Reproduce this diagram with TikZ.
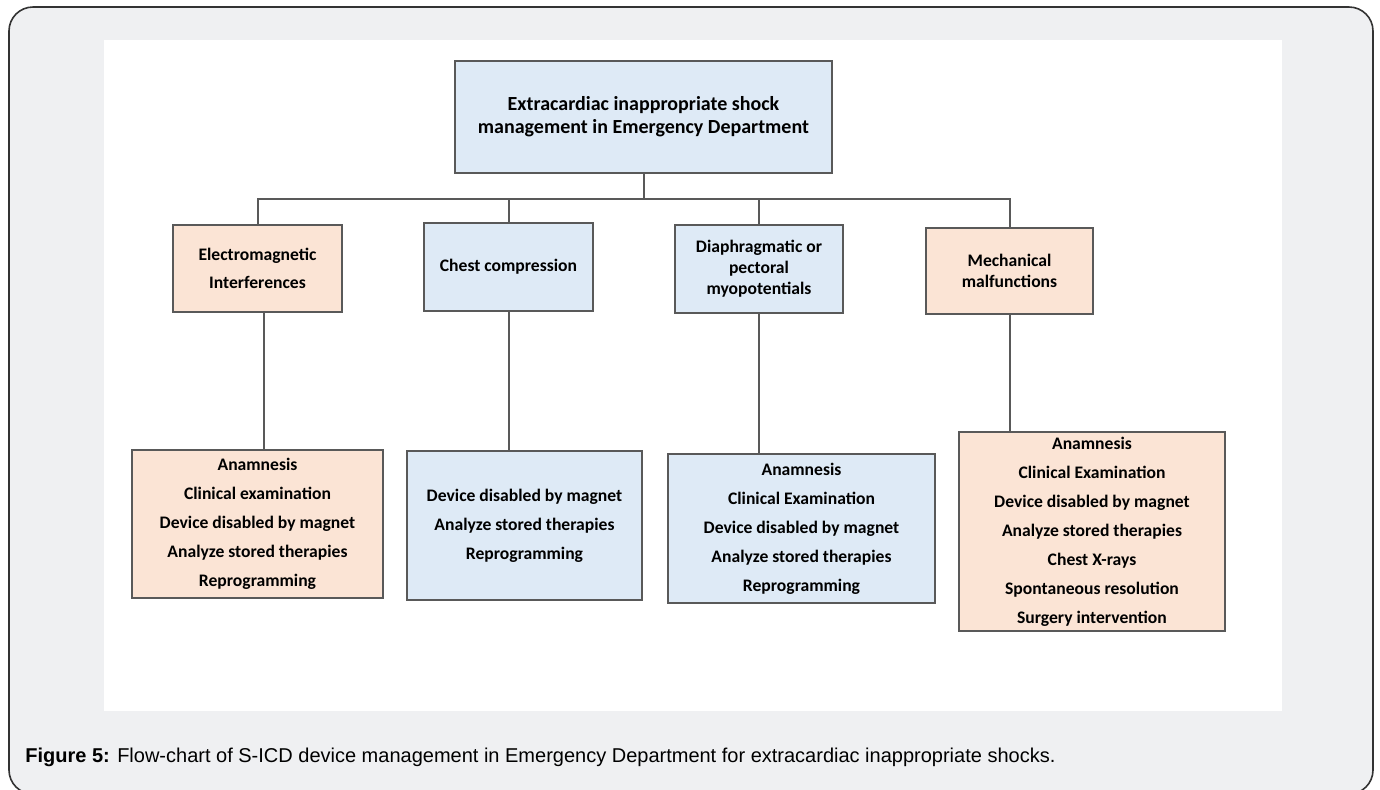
\documentclass[tikz,border=0pt]{standalone}
\usepackage{fontspec}
\setmainfont{Carlito}
\newfontfamily\capfont{Liberation Sans}
\definecolor{boxblue}{HTML}{DEEAF6}
\definecolor{boxpeach}{HTML}{FBE4D5}
\definecolor{linegray}{HTML}{595959}
\definecolor{framegray}{HTML}{EFF0F2}
\begin{document}
\begin{tikzpicture}[x=0.5pt, y=-0.5pt,
    box/.style={rectangle, draw=linegray, line width=1.2pt, inner sep=0pt, align=center, font=\bfseries\fontsize{8.8}{14.5}\selectfont},
    blue/.style={box, fill=boxblue},
    peach/.style={box, fill=boxpeach},
    conn/.style={draw=linegray, line width=1pt}]
        \useasboundingbox (0,0) rectangle (1380,789);
        % CORNICE E PANNELLO
        \draw[fill=framegray, draw=black!80, line width=0.8pt, rounded corners=12pt] (9,7) rectangle (1373,794);
        \fill[white] (104,40) rectangle (1282,711);

        % RADICE
        \node[blue, minimum width=188.5pt, minimum height=56pt, font=\bfseries\fontsize{10}{11.5}\selectfont] (top) at (643.5,117) {Extracardiac inappropriate shock\\management in Emergency Department};

        % CAUSE
        \node[peach, minimum width=84.5pt, minimum height=43.5pt, font=\bfseries\fontsize{8.8}{14}\selectfont] (m1) at (257.5,268.5) {Electromagnetic\\Interferences};
        \node[blue, minimum width=84.5pt, minimum height=44pt] (m2) at (508.5,267) {Chest compression};
        \node[blue, minimum width=84pt, minimum height=44pt, font=\bfseries\fontsize{8.8}{10.5}\selectfont] (m3) at (759,269) {Diaphragmatic or\\pectoral\\myopotentials};
        \node[peach, minimum width=83.5pt, minimum height=43pt, font=\bfseries\fontsize{8.8}{10.5}\selectfont] (m4) at (1009.5,271) {Mechanical\\malfunctions};

        % GESTIONE
        \node[peach, minimum width=125.5pt, minimum height=74pt] (b1) at (257.5,524) {Anamnesis\\Clinical examination\\Device disabled by magnet\\Analyze stored therapies\\Reprogramming};
        \node[blue, minimum width=117.5pt, minimum height=74.5pt] (b2) at (524.5,525.5) {Device disabled by magnet\\Analyze stored therapies\\Reprogramming};
        \node[blue, minimum width=133.5pt, minimum height=74.5pt] (b3) at (801.5,528.5) {Anamnesis\\Clinical Examination\\Device disabled by magnet\\Analyze stored therapies\\Reprogramming};
        \node[peach, minimum width=133pt, minimum height=99.5pt] (b4) at (1092,531.5) {Anamnesis\\Clinical Examination\\Device disabled by magnet\\Analyze stored therapies\\Chest X-rays\\Spontaneous resolution\\Surgery intervention};

        % CONNESSIONI
        \coordinate (bar) at (643.5,199);
        \draw[conn] (top.south) -- (top.south |- bar);
        \draw[conn] (m1.north) |- (m4.north |- bar) -- (m4.north);
        \draw[conn] (m2.north) -- (m2.north |- bar);
        \draw[conn] (m3.north) -- (m3.north |- bar);
        \draw[conn] ([xshift=3pt]m1.south) -- ([xshift=3pt]m1.south |- b1.north);
        \draw[conn] (m2.south) -- (m2.south |- b2.north);
        \draw[conn] (m3.south) -- (m3.south |- b3.north);
        \draw[conn] (m4.south) -- (m4.south |- b4.north);

        % DIDASCALIA
        \node[anchor=west, inner sep=0pt, font=\capfont\fontsize{10}{12}\selectfont] (cap) at (25,757) {\textbf{Figure 5:} Flow-chart of S-ICD device management in Emergency Department for extracardiac inappropriate shocks.};
    \end{tikzpicture}
\end{document}
